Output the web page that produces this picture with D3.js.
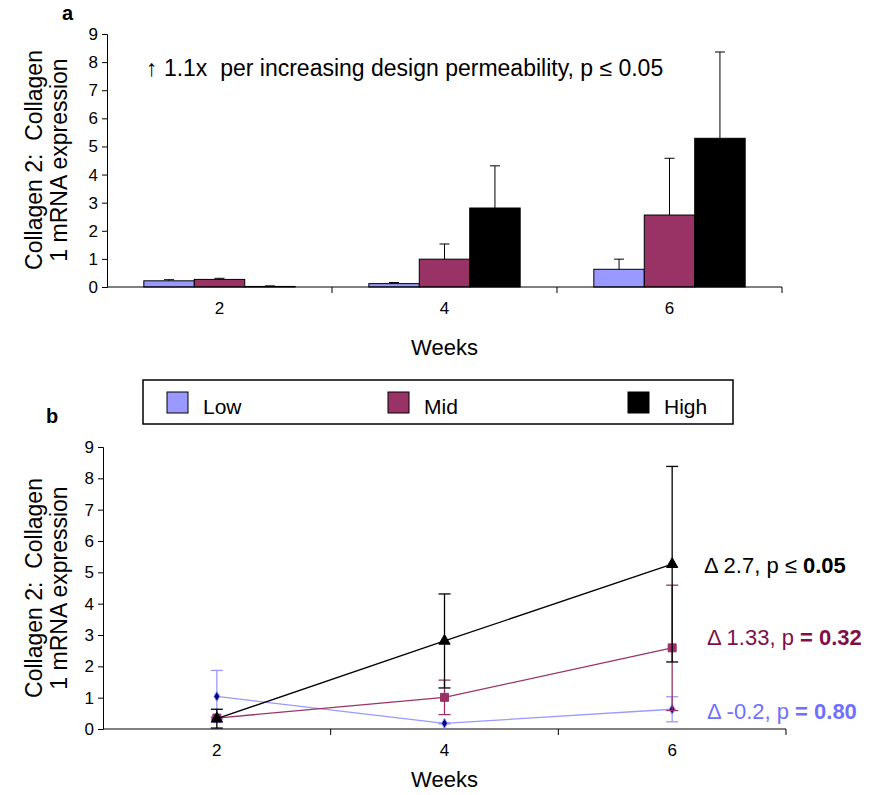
<!DOCTYPE html>
<html>
<head>
<meta charset="utf-8">
<script src="https://cdn.jsdelivr.net/npm/d3@7"></script>
<style>
  body { margin: 0; background: #fff; }
  svg { font-family: "Liberation Sans", Arial, sans-serif; }
  text { white-space: pre; }
</style>
</head>
<body>
<div id="chart"></div>
<script>
// data
var weeks = ["2", "4", "6"];
var groups = ["Low", "Mid", "High"];
var colors = ["#9999ff", "#993366", "#000000"];

// panel a: bar means and upper error (sd)
var barLow  = [0.22, 0.12, 0.63];
var barMid  = [0.27, 0.99, 2.56];
var barHigh = [0.02, 2.81, 5.29];
var errLow  = [0.04, 0.04, 0.36];
var errMid  = [0.04, 0.54, 2.02];
var errHigh = [0.02, 1.50, 3.07];

// panel b: line means and +/- error
var lineLow  = [1.04, 0.18, 0.63];
var lineMid  = [0.35, 1.01, 2.59];
var lineHigh = [0.33, 2.81, 5.26];
var lerrLow  = [0.83, 0.02, 0.40];
var lerrMid  = [0.03, 0.55, 2.00];
var lerrHigh = [0.30, 1.50, 3.12];

var yTicks = [0, 1, 2, 3, 4, 5, 6, 7, 8, 9];

var svg = d3.select("#chart").append("svg")
  .attr("width", 869)
  .attr("height", 795);

function yLabel(cx, cy) {
  var t = svg.append("text")
    .attr("transform", "translate(" + cx + "," + cy + ") rotate(-90)")
    .attr("text-anchor", "middle")
    .style("font-size", "23px");
  t.append("tspan").attr("x", 0).attr("dy", 0).text("Collagen 2:  Collagen");
  t.append("tspan").attr("x", 0).attr("dy", 25).text("1 mRNA expression");
}

function drawAxes(x, y, labelY) {
  // y axis
  svg.append("g")
    .attr("transform", "translate(" + x.range()[0] + ",0)")
    .call(d3.axisLeft(y).tickValues(yTicks).tickSize(5).tickPadding(4))
    .call(function(g) {
      g.select(".domain").attr("stroke", "#000");
      g.selectAll("text").style("font-size", "17px").attr("fill", "#000");
      g.selectAll("line").attr("stroke", "#000");
    });
  // x axis: ticks on category boundaries, labels in the middle
  var g = svg.append("g").attr("transform", "translate(0," + y(0) + ")");
  g.append("line")
    .attr("x1", x.range()[0]).attr("x2", x.range()[1])
    .attr("stroke", "#000");
  g.selectAll(".bnd").data(weeks).enter().append("line")
    .attr("x1", function(d) { return x(d) + x.bandwidth(); })
    .attr("x2", function(d) { return x(d) + x.bandwidth(); })
    .attr("y1", 0).attr("y2", 6)
    .attr("stroke", "#000");
  g.selectAll(".lab").data(weeks).enter().append("text")
    .attr("x", function(d) { return x(d) + x.bandwidth() / 2; })
    .attr("y", 27)
    .attr("text-anchor", "middle")
    .style("font-size", "17px")
    .text(function(d) { return d; });
  svg.append("text")
    .attr("x", (x.range()[0] + x.range()[1]) / 2)
    .attr("y", labelY)
    .attr("text-anchor", "middle")
    .style("font-size", "22px")
    .text("Weeks");
}

// ---------------- panel a ----------------
var xa = d3.scaleBand().domain(weeks).range([107, 782]).padding(0);
var ya = d3.scaleLinear().domain([0, 9]).range([287, 34]);
var xa1 = d3.scaleBand().domain(groups).range([0, xa.bandwidth()])
  .paddingInner(0).paddingOuter(0.73);

var barVals = [barLow, barMid, barHigh];
var barErrs = [errLow, errMid, errHigh];

groups.forEach(function(grp, gi) {
  var rows = weeks.map(function(w, i) {
    return {week: w, v: barVals[gi][i], e: barErrs[gi][i]};
  });
  var gg = svg.append("g");
  // error bars (upper only)
  gg.selectAll("line.err").data(rows).enter().append("line")
    .attr("x1", function(d) { return xa(d.week) + xa1(grp) + xa1.bandwidth() / 2; })
    .attr("x2", function(d) { return xa(d.week) + xa1(grp) + xa1.bandwidth() / 2; })
    .attr("y1", function(d) { return ya(d.v); })
    .attr("y2", function(d) { return ya(d.v + d.e); })
    .attr("stroke", "#000");
  gg.selectAll("line.cap").data(rows).enter().append("line")
    .attr("x1", function(d) { return xa(d.week) + xa1(grp) + xa1.bandwidth() / 2 - 5; })
    .attr("x2", function(d) { return xa(d.week) + xa1(grp) + xa1.bandwidth() / 2 + 5; })
    .attr("y1", function(d) { return ya(d.v + d.e); })
    .attr("y2", function(d) { return ya(d.v + d.e); })
    .attr("stroke", "#000");
  gg.selectAll("rect").data(rows).enter().append("rect")
    .attr("x", function(d) { return xa(d.week) + xa1(grp); })
    .attr("y", function(d) { return ya(d.v); })
    .attr("width", xa1.bandwidth())
    .attr("height", function(d) { return ya(0) - ya(d.v); })
    .attr("fill", colors[gi])
    .attr("stroke", "#000")
    .attr("stroke-width", 1);
});

drawAxes(xa, ya, 355);
yLabel(42, 160);

svg.append("text")
  .attr("x", 62).attr("y", 20)
  .style("font-size", "20px").style("font-weight", "bold")
  .text("a");

svg.append("text")
  .attr("x", 146).attr("y", 76)
  .style("font-size", "23px")
  .text("\u2191 1.1x  per increasing design permeability, p \u2264 0.05");

// ---------------- legend ----------------
var legendX = [167, 388, 628];
var lg = svg.append("g");
lg.append("rect")
  .attr("x", 143).attr("y", 380).attr("width", 590).attr("height", 44)
  .attr("fill", "#fff").attr("stroke", "#000").attr("stroke-width", 1.5);
groups.forEach(function(grp, gi) {
  lg.append("rect")
    .attr("x", legendX[gi]).attr("y", 392).attr("width", 21).attr("height", 21)
    .attr("fill", colors[gi]).attr("stroke", "#000");
  lg.append("text")
    .attr("x", legendX[gi] + 36).attr("y", 414)
    .style("font-size", "21px")
    .text(grp);
});

// ---------------- panel b ----------------
var xb = d3.scaleBand().domain(weeks).range([103, 786]).padding(0);
var yb = d3.scaleLinear().domain([0, 9]).range([729, 447]);
function cx(w) { return xb(w) + xb.bandwidth() / 2; }

svg.append("text")
  .attr("x", 46).attr("y", 423)
  .style("font-size", "20px").style("font-weight", "bold")
  .text("b");

var lineVals = [lineLow, lineMid, lineHigh];
var lineErrs = [lerrLow, lerrMid, lerrHigh];
var lineColors = ["#9999ff", "#993366", "#000000"];

drawAxes(xb, yb, 787);
yLabel(42, 588);

var line = d3.line().x(function(d) { return cx(d.week); }).y(function(d) { return yb(d.v); });

groups.forEach(function(grp, gi) {
  var rows = weeks.map(function(w, i) {
    return {week: w, v: lineVals[gi][i], e: lineErrs[gi][i]};
  });
  var gg = svg.append("g");
  gg.selectAll("line.err").data(rows).enter().append("line")
    .attr("x1", function(d) { return cx(d.week); })
    .attr("x2", function(d) { return cx(d.week); })
    .attr("y1", function(d) { return yb(d.v - d.e); })
    .attr("y2", function(d) { return yb(d.v + d.e); })
    .attr("stroke", lineColors[gi]).attr("stroke-width", 1.3);
  [1, -1].forEach(function(s) {
    gg.selectAll("line.cap" + s).data(rows).enter().append("line")
      .attr("x1", function(d) { return cx(d.week) - 6; })
      .attr("x2", function(d) { return cx(d.week) + 6; })
      .attr("y1", function(d) { return yb(d.v + s * d.e); })
      .attr("y2", function(d) { return yb(d.v + s * d.e); })
      .attr("stroke", lineColors[gi]).attr("stroke-width", 1.3);
  });
  gg.append("path")
    .datum(rows)
    .attr("d", line)
    .attr("fill", "none")
    .attr("stroke", lineColors[gi])
    .attr("stroke-width", 1.3);
  var sym, size, fill, stroke;
  if (gi === 0) { sym = d3.symbolDiamond; size = 30; fill = "#000080"; stroke = "#9999ff"; }
  else if (gi === 1) { sym = d3.symbolSquare; size = 64; fill = "#993366"; stroke = "#993366"; }
  else { sym = d3.symbolTriangle; size = 55; fill = "#000"; stroke = "#000"; }
  gg.selectAll("path.pt").data(rows).enter().append("path")
    .attr("transform", function(d) { return "translate(" + cx(d.week) + "," + yb(d.v) + ")"; })
    .attr("d", d3.symbol().type(sym).size(size))
    .attr("fill", fill).attr("stroke", stroke).attr("stroke-width", 1);
});

// annotations for panel b
var notes = [
  {a: "\u0394 2.7, p \u2264 ", b: "0.05", c: "#000000", y: 573},
  {a: "\u0394 1.33, p ", b: "= 0.32", c: "#7f0f4a", y: 645},
  {a: "\u0394 -0.2, p ", b: "= 0.80", c: "#7070ff", y: 719}
];
notes.forEach(function(n, i) {
  var t = svg.append("text")
    .attr("x", i === 0 ? 704 : 707).attr("y", n.y)
    .style("font-size", "22px")
    .attr("fill", n.c);
  t.append("tspan").text(n.a);
  t.append("tspan").style("font-weight", "bold").text(n.b);
});
</script>
</body>
</html>
